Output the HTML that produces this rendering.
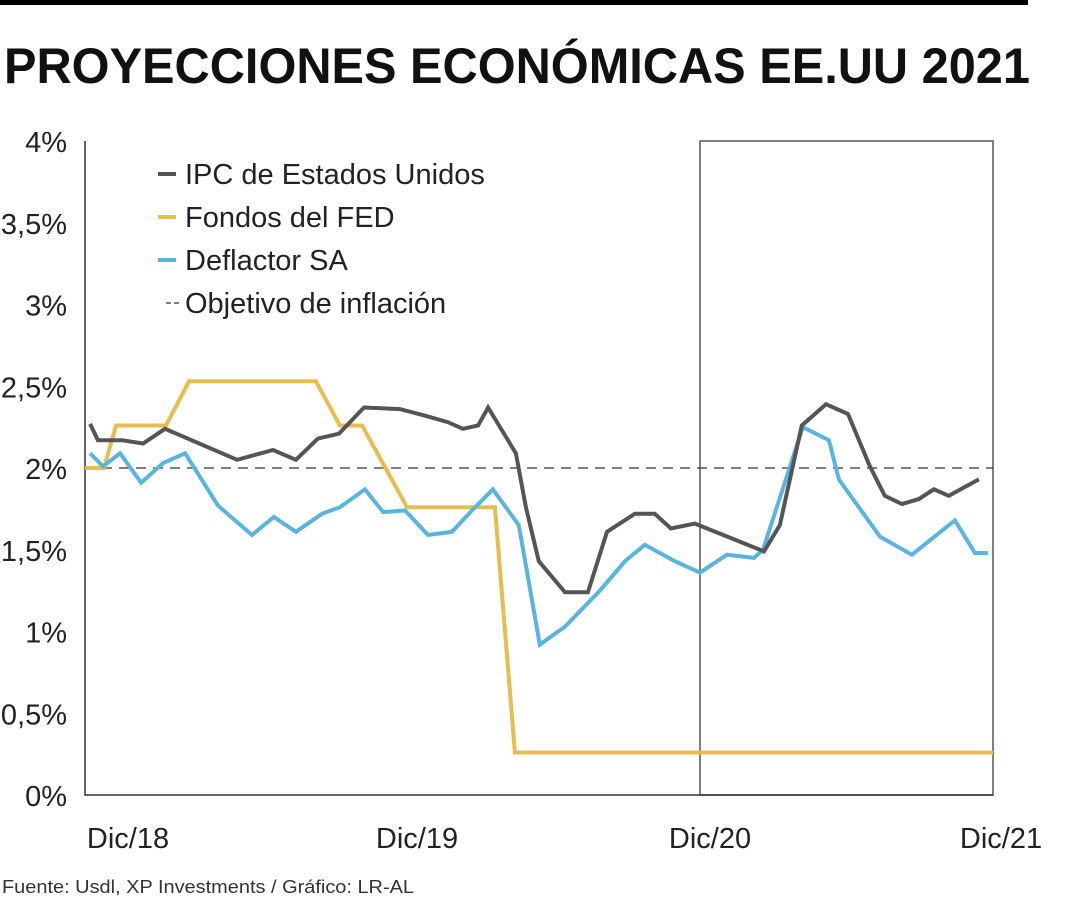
<!DOCTYPE html>
<html><head><meta charset="utf-8"><style>
body{margin:0;background:#fff}
svg{display:block;font-family:"Liberation Sans",sans-serif}
</style></head><body>
<svg id="c" width="1080" height="900">
<rect x="0" y="0" width="1028" height="5" fill="#000"/>
<text x="4" y="83" font-size="50" font-weight="bold" textLength="1026" lengthAdjust="spacingAndGlyphs" fill="#111">PROYECCIONES ECONÓMICAS EE.UU 2021</text>
<text x="2" y="893" font-size="18" fill="#333" textLength="412" lengthAdjust="spacingAndGlyphs">Fuente: Usdl, XP Investments / Gráfico: LR-AL</text>
</svg>
<script>
const yTicks=[0,0.5,1,1.5,2,2.5,3,3.5,4];
const yTickLabels=["0%","0,5%","1%","1,5%","2%","2,5%","3%","3,5%","4%"];
const xTicks=[0,12,24,36];
const xTickLabels=["Dic/18","Dic/19","Dic/20","Dic/21"];
const target=2;
const ipcT=[-0.98,-0.66,0.33,1.19,2.09,5.04,6.51,7.45,8.35,9.21,10.24,11.71,12.74,13.68,14.29,14.91,15.32,16.46,16.87,17.40,18.47,19.41,20.19,21.33,22.15,22.81,23.79,26.62,27.27,28.17,29.16,30.06,30.96,31.57,32.27,32.96,33.58,34.19,35.42];
const ipcV=[2.27,2.17,2.17,2.15,2.24,2.05,2.11,2.05,2.18,2.21,2.37,2.36,2.32,2.28,2.24,2.26,2.37,2.09,1.76,1.43,1.24,1.24,1.61,1.72,1.72,1.63,1.66,1.49,1.65,2.26,2.39,2.33,2.01,1.83,1.78,1.81,1.87,1.83,1.93];
const fedT=[-1.19,-0.41,0.08,2.13,3.07,8.27,9.25,10.16,12.0,15.60,16.42,36.0];
const fedV=[2.0,2.0,2.26,2.26,2.53,2.53,2.26,2.26,1.76,1.76,0.26,0.26];
const defT=[-0.98,-0.45,0.25,1.11,2.01,2.91,4.26,5.65,6.55,7.45,8.52,9.25,10.28,11.02,11.92,12.86,13.84,14.66,15.52,16.58,17.44,18.47,19.90,20.93,21.74,22.97,24.0,25.10,26.21,26.58,28.21,29.28,29.69,31.37,32.68,34.44,35.26,35.79];
const defV=[2.09,2.01,2.09,1.91,2.03,2.09,1.77,1.59,1.70,1.61,1.72,1.76,1.87,1.73,1.74,1.59,1.61,1.74,1.87,1.65,0.92,1.03,1.25,1.43,1.53,1.43,1.36,1.47,1.45,1.50,2.25,2.17,1.93,1.58,1.47,1.68,1.48,1.48];
const legendLabels=["IPC de Estados Unidos","Fondos del FED","Deflactor SA","Objetivo de inflación"];

const svg=document.getElementById('c');const NS="http://www.w3.org/2000/svg";
const X0=85,X1=993,Y0=795,Y1=141;
const x=t=>114+t*(993-700)/12*1.0;
const xs=t=>700+(t-24)*(293/12);
const y=v=>Y0-(v/4)*(Y0-Y1);
function mk(tag,attrs){const e=document.createElementNS(NS,tag);for(const k in attrs)e.setAttribute(k,attrs[k]);svg.appendChild(e);return e;}
// box
let b=mk('rect',{x:700,y:Y1,width:293,height:Y0-Y1,fill:'none',stroke:'#555','stroke-width':1.5});


let ax=mk('path',{d:`M${X0} ${Y1}V${Y0}H${X1}`,fill:'none',stroke:'#333','stroke-width':1.5});


yTicks.forEach((v,i)=>{const t=mk('text',{x:67,y:y(v)+11,'font-size':29,'text-anchor':'end',fill:'#222'});t.textContent=yTickLabels[i];

});
xTicks.forEach((v,i)=>{const t=mk('text',{x:xs(v)+(i==0?14:i==3?8:10),y:848,'font-size':29,'text-anchor':'middle',fill:'#222'});t.textContent=xTickLabels[i];

});
let tl=mk('line',{x1:X0,x2:X1,y1:y(target),y2:y(target),stroke:'#333','stroke-width':1.3,'stroke-dasharray':'10 7'});


function line(T,V,col,name){const d=T.map((t,i)=>(i?'L':'M')+xs(t).toFixed(1)+' '+y(V[i]).toFixed(1)).join('');
const p=mk('path',{d,fill:'none',stroke:col,'stroke-width':4,'stroke-linejoin':'miter'});

}
line(fedT,fedV,'#e8bd50','fed-funds-line');
line(defT,defV,'#5ab4e0','deflator-line');
line(ipcT,ipcV,'#555','cpi-line');
const cols=['#555','#e8bd50','#5ab4e0','#333'];
legendLabels.forEach((l,i)=>{const yy=174+i*43;
let m;if(i<3)m=mk('line',{x1:158,x2:176,y1:yy,y2:yy,stroke:cols[i],'stroke-width':4});
else m=mk('line',{x1:166,x2:180,y1:yy,y2:yy,stroke:cols[i],'stroke-width':1.3,'stroke-dasharray':'5 3'});


const t=mk('text',{x:185,y:yy+10,'font-size':29,fill:'#222'});t.textContent=l;

});
</script>
</body></html>
